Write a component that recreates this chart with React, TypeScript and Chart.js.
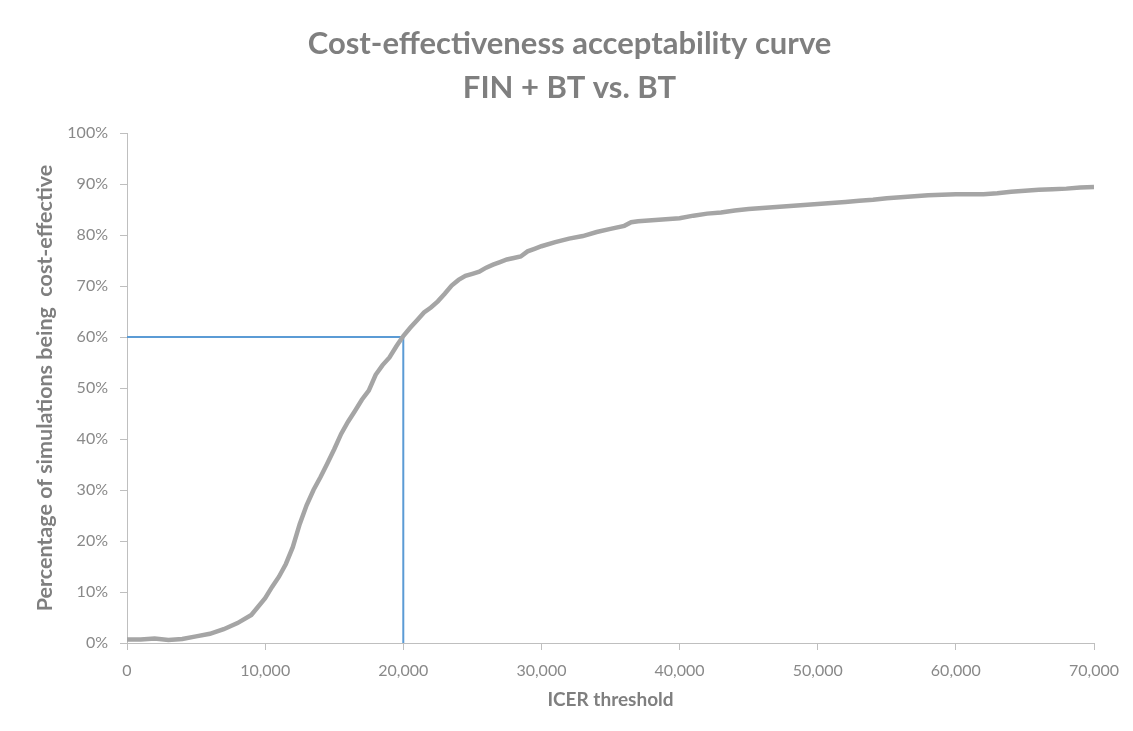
import React, { useEffect, useRef } from "react";
import { Chart, registerables } from "chart.js";

Chart.register(...registerables);

const chartTitle = ["Cost-effectiveness acceptability curve", "FIN + BT vs. BT"];
const xAxisTitle = "ICER threshold";
const yAxisTitle = "Percentage of simulations being  cost-effective";

const thresholds = [
  0, 1000, 2000, 3000, 4000, 5000, 6000, 7000, 8000, 9000, 10000, 10500, 11000, 11500, 12000,
  12500, 13000, 13500, 14000, 14500, 15000, 15500, 16000, 16500, 17000, 17500, 18000, 18500,
  19000, 19500, 20000, 20500, 21000, 21500, 22000, 22500, 23000, 23500, 24000, 24500, 25000,
  25500, 26000, 26500, 27000, 27500, 28000, 28500, 29000, 29500, 30000, 31000, 32000, 33000,
  34000, 35000, 36000, 36500, 37000, 38000, 39000, 40000, 41000, 42000, 43000, 44000, 45000,
  46000, 47000, 48000, 49000, 50000, 51000, 52000, 53000, 54000, 55000, 56000, 57000, 58000,
  59000, 60000, 61000, 62000, 63000, 64000, 65000, 66000, 67000, 68000, 69000, 70000,
];

const probCostEffective = [
  0.7, 0.7, 0.9, 0.6, 0.8, 1.3, 1.8, 2.7, 3.9, 5.5, 8.8, 11.0, 13.0, 15.5, 18.8,
  23.3, 27.0, 30.0, 32.5, 35.2, 38.0, 41.0, 43.4, 45.5, 47.7, 49.5, 52.6, 54.5,
  56.0, 58.2, 60.2, 61.8, 63.3, 64.8, 65.8, 67.0, 68.5, 70.1, 71.2, 72.0, 72.4,
  72.8, 73.6, 74.2, 74.7, 75.2, 75.5, 75.8, 76.8, 77.3, 77.8, 78.6, 79.3, 79.8,
  80.6, 81.2, 81.8, 82.5, 82.7, 82.9, 83.1, 83.3, 83.8, 84.2, 84.4, 84.8, 85.1,
  85.3, 85.5, 85.7, 85.9, 86.1, 86.3, 86.5, 86.7, 86.9, 87.2, 87.4, 87.6, 87.8,
  87.9, 88.0, 88.0, 88.0, 88.2, 88.5, 88.7, 88.9, 89.0, 89.1, 89.3, 89.4,
];

// Reference guide: 60% probability at a 20,000 threshold
const guideX = [0, 20000, 20000];
const guideY = [60, 60, 0];

const xTicksMax = 70000;
const xTickStep = 10000;
const yTicksMax = 100;
const yTickStep = 10;

const frameBorder = {
  id: "frameBorder",
  beforeDraw(chart: any) {
    const { ctx, width, height } = chart;
    ctx.save();
    ctx.fillStyle = "#bdbdbd";
    ctx.fillRect(0, 0, width, 2);
    ctx.fillRect(0, 0, 2, height);
    ctx.restore();
  },
};

export default function App() {
  const canvasRef = useRef<HTMLCanvasElement | null>(null);

  useEffect(() => {
    const canvas = canvasRef.current;
    if (!canvas) return;
    const curve = thresholds.map((x, i) => ({ x, y: probCostEffective[i] }));
    const guide = guideX.map((x, i) => ({ x, y: guideY[i] }));
    const tickFont = { family: "Lato", size: 16 };
    const chart = new Chart(canvas, {
      type: "line",
      data: {
        datasets: [
          {
            label: "CEAC",
            data: curve,
            borderColor: "#a5a5a5",
            borderWidth: 4.5,
            pointRadius: 0,
            tension: 0,
            fill: false,
          },
          {
            label: "Guide",
            data: guide,
            borderColor: "#5b9bd5",
            borderWidth: 2,
            pointRadius: 0,
            tension: 0,
            fill: false,
          },
        ],
      },
      plugins: [frameBorder],
      options: {
        animation: false,
        responsive: true,
        maintainAspectRatio: false,
        layout: { padding: { left: 0, right: 0, top: 0, bottom: 0 } },
        plugins: {
          legend: { display: false },
          tooltip: { enabled: false },
          title: {
            display: true,
            text: chartTitle,
            color: "#7f7f7f",
            font: { family: "Lato", size: 31, weight: "bold", lineHeight: 1.42 },
            padding: { top: 16, bottom: 23 },
          },
        },
        scales: {
          x: {
            type: "linear",
            min: 0,
            max: xTicksMax,
            afterFit: (scale: any) => {
              scale.height = 80;
              scale.paddingLeft = 0;
              scale.paddingRight = 39;
            },
            ticks: {
              stepSize: xTickStep,
              color: "#898989",
              font: tickFont,
              padding: 11,
              maxRotation: 0,
              callback: (v: any) => Number(v).toLocaleString("en-US"),
            },
            grid: {
              display: true,
              drawOnChartArea: false,
              drawTicks: true,
              tickLength: 7,
              color: "#bfbfbf",
            },
            border: { display: true, color: "#bfbfbf", width: 1 },
            title: {
              display: true,
              text: xAxisTitle,
              color: "#7f7f7f",
              font: { family: "Lato", size: 19, weight: "bold", lineHeight: 1.2 },
              padding: { top: 0, bottom: 12 },
            },
          },
          y: {
            type: "linear",
            min: 0,
            max: yTicksMax,
            afterFit: (scale: any) => {
              scale.width = 121;
            },
            ticks: {
              stepSize: yTickStep,
              color: "#898989",
              font: tickFont,
              padding: 12,
              callback: (v: any) => v + "%",
            },
            grid: {
              display: true,
              drawOnChartArea: false,
              drawTicks: true,
              tickLength: 7,
              color: "#bfbfbf",
            },
            border: { display: true, color: "#bfbfbf", width: 1 },
            title: {
              display: true,
              text: yAxisTitle,
              color: "#7f7f7f",
              font: { family: "Lato", size: 21.5, weight: "bold", lineHeight: 1.2 },
              padding: { top: 26, bottom: 0 },
            },
          },
        },
      },
    });
    return () => chart.destroy();
  }, []);

  return (
    <div style={{ marginTop: -2, marginLeft: -2, width: 1127, height: 717, overflow: "hidden" }}>
      <div style={{ position: "relative", width: 1127, height: 717 }}>
        <canvas ref={canvasRef} />
      </div>
    </div>
  );
}
